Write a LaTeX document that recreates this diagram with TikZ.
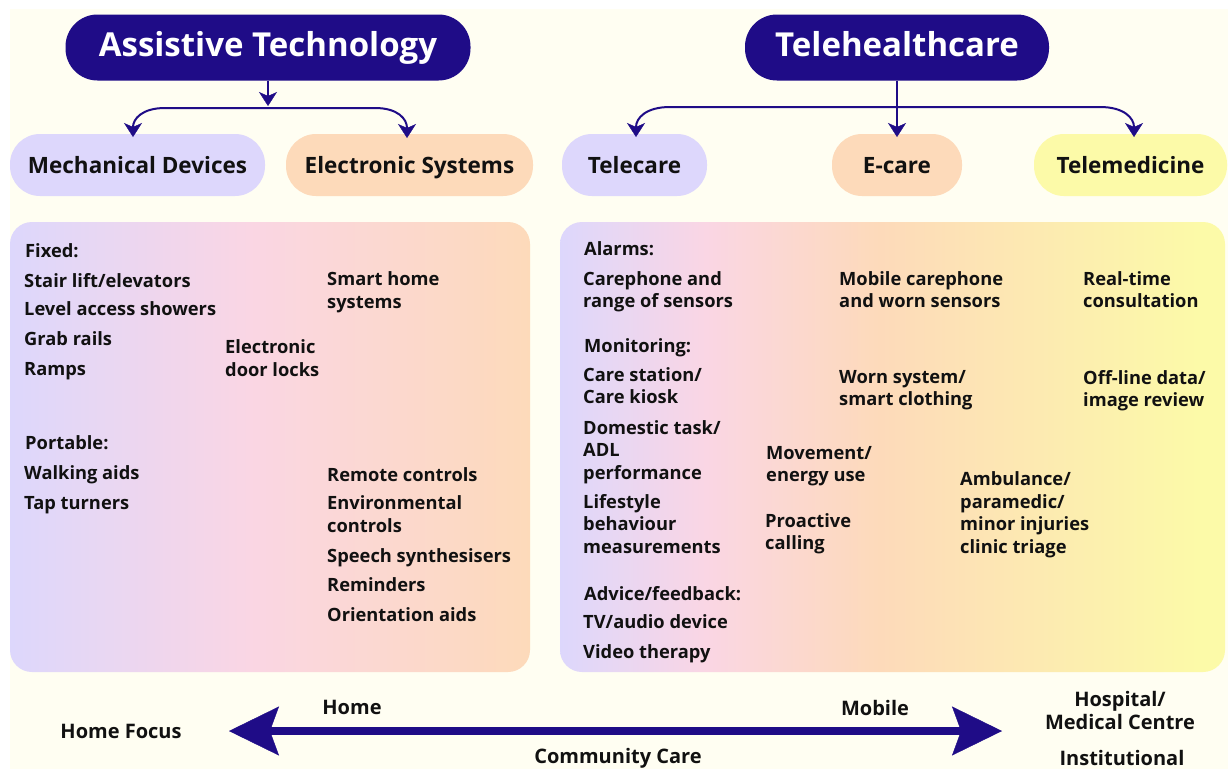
\documentclass[tikz,border=0pt]{standalone}
\usepackage{fontspec}
\setmainfont{Open Sans}
\usetikzlibrary{arrows.meta}

\definecolor{navy}{RGB}{31,12,135}
\definecolor{cream}{RGB}{255,254,242}
\definecolor{lav}{RGB}{221,215,252}
\definecolor{rose}{RGB}{250,214,228}
\definecolor{peach}{RGB}{253,218,186}
\definecolor{lemon}{RGB}{252,250,168}
\definecolor{ink}{RGB}{17,17,17}

% panel gradients (the path box maps onto 25bp..75bp)
\pgfdeclarehorizontalshading{atshade}{100bp}{color(0bp)=(lav); color(25bp)=(lav); color(48bp)=(rose); color(75bp)=(peach); color(100bp)=(peach)}
\pgfdeclarehorizontalshading{thshade}{100bp}{color(0bp)=(lav); color(25bp)=(lav); color(36bp)=(rose); color(49bp)=(peach); color(73bp)=(lemon); color(100bp)=(lemon)}

\tikzset{
  title/.style={fill=navy, text=white, rounded corners=32pt, inner sep=0pt,
    minimum height=66pt, text height=23pt, text depth=6pt,
    font=\fontsize{33}{38}\selectfont\bfseries},
  pill/.style={rounded corners=30pt, inner sep=0pt, minimum height=62pt,
    text height=20pt, text depth=4pt, text=ink,
    font=\fontsize{22.5}{26}\selectfont\bfseries},
  item/.style={anchor=base west, inner sep=0pt, text=ink, align=left,
    font=\fontsize{18.3}{22.5}\selectfont\bfseries},
  axislabel/.style={inner sep=0pt, text=ink, align=center,
    font=\fontsize{20}{23}\selectfont\bfseries},
  conn/.style={draw=navy, line width=2pt},
  smalltip/.tip={Stealth[length=14pt, width=18pt, inset=4pt, line width=0.4pt]},
  bigtip/.tip={Stealth[length=50pt, width=49pt, inset=9pt, line width=0.4pt]}
}

\begin{document}
\begin{tikzpicture}[x=1pt, y=-1pt]
  \useasboundingbox (0,0) rectangle (1228,769);
  \fill[white] (0,0) rectangle (1228,769);
  \fill[cream] (10,9) rectangle (1228,769);

  % main headings
  \node[title, minimum width=405pt] (at) at (268,47.5) {Assistive Technology};
  \node[title, minimum width=304pt] (th) at (897,47.5) {Telehealthcare};

  % category pills
  \node[pill, fill=lav,   minimum width=255pt] (md) at (137.5,165) {Mechanical Devices};
  \node[pill, fill=peach, minimum width=247pt] (es) at (409.5,165) {Electronic Systems};
  \node[pill, fill=lav,   minimum width=145pt] (tc) at (634.5,165) {Telecare};
  \node[pill, fill=peach, minimum width=130pt] (ec) at (897,165) {E-care};
  \node[pill, fill=lemon, minimum width=193pt] (tm) at (1130.5,165) {Telemedicine};

  % connector end points
  \coordinate (atdrop) at (268,106);
  \coordinate (mdtip) at (133,137);
  \coordinate (estip) at (407,138);
  \coordinate (tctip) at (636,137);
  \coordinate (ectip) at (897,137);
  \coordinate (tmtip) at (1134,137);

  % Assistive Technology branches
  \draw[conn, -{smalltip}] (at.south) -- (atdrop);
  \draw[conn, {smalltip}-{smalltip}] (mdtip) .. controls (133,119) and (142,108) .. (165,108)
     -- (375,108) .. controls (398,108) and (407,119) .. (estip);

  % Telehealthcare branches
  \draw[conn, -{smalltip}] (th.south) -- (ectip);
  \draw[conn, {smalltip}-{smalltip}] (tctip) .. controls (636,118) and (646,107) .. (670,107)
     -- (1100,107) .. controls (1124,107) and (1134,118) .. (tmtip);

  % content panels
  \shade[shading=atshade, rounded corners=22pt] (10,222) rectangle (530,672);
  \shade[shading=thshade, rounded corners=22pt] (560,222) rectangle (1225,672);

  % mechanical / electronic items (multi-line nodes sit on their last baseline)
  \node[item] (fixed) at (25,257) {Fixed:};
  \node[item] (stair) at (24,287) {Stair lift/elevators};
  \node[item] (shower) at (24,315) {Level access showers};
  \node[item] (grab) at (24,345) {Grab rails};
  \node[item] (ramps) at (24,375) {Ramps};
  \node[item] (locks) at (225,376) {Electronic\\door locks};
  \node[item] (smart) at (327,308) {Smart home\\systems};
  \node[item] (portable) at (25,449) {Portable:};
  \node[item] (walk) at (24,479) {Walking aids};
  \node[item] (tap) at (24,509) {Tap turners};
  \node[item] (remote) at (327,481) {Remote controls};
  \node[item] (envir) at (327,532) {Environmental\\controls};
  \node[item] (speech) at (327,562) {Speech synthesisers};
  \node[item] (remind) at (327,591) {Reminders};
  \node[item] (orient) at (327,621) {Orientation aids};

  % telecare / e-care / telemedicine items
  \node[item] (alarms) at (584,255) {Alarms:};
  \node[item] (carephone) at (583,307.5) {Carephone and\\range of sensors};
  \node[item] (mobilecp) at (839,307.5) {Mobile carephone\\and worn sensors};
  \node[item] (realtime) at (1083,307.5) {Real-time\\consultation};
  \node[item] (monitor) at (584,352) {Monitoring:};
  \node[item] (station) at (583,403.5) {Care station/\\Care kiosk};
  \node[item] (worn) at (839,405.5) {Worn system/\\smart clothing};
  \node[item] (offline) at (1083,406.5) {Off-line data/\\image review};
  \node[item] (domestic) at (583,479) {Domestic task/\\ADL\\performance};
  \node[item] (movement) at (766,481.5) {Movement/\\energy use};
  \node[item] (ambulance) at (960,553) {Ambulance/\\paramedic/\\minor injuries\\clinic triage};
  \node[item] (lifestyle) at (583,553) {Lifestyle\\behaviour\\measurements};
  \node[item] (proactive) at (765,549.5) {Proactive\\calling};
  \node[item] (advice) at (584,600) {Advice/feedback:};
  \node[item] (tv) at (583,628) {TV/audio device};
  \node[item] (video) at (583,658) {Video therapy};

  % care-setting axis
  \coordinate (homeend) at (229,731);
  \coordinate (hospend) at (1002,731);
  \draw[navy, line width=8pt, {bigtip}-{bigtip}] (homeend) -- (hospend);
  \node[axislabel] (homefocus) at (121,731) {Home Focus};
  \node[axislabel] (home) at (352,707) {Home};
  \node[axislabel] (mobile) at (875,708) {Mobile};
  \node[axislabel] (community) at (618,758) {Community Care};
  \node[axislabel] (hospital) at (1120,710) {Hospital/\\Medical Centre};
  \node[axislabel] (institution) at (1122,758) {Institutional};
\end{tikzpicture}
\end{document}
